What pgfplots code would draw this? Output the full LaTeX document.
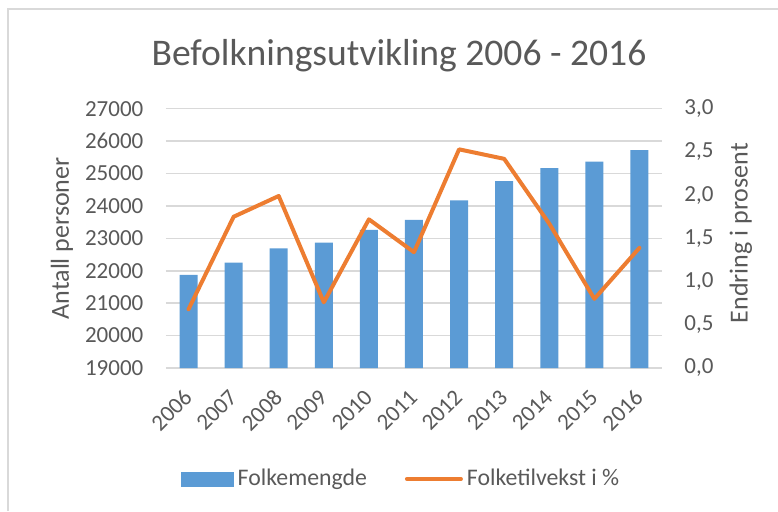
\documentclass[border=0pt]{standalone}
\usepackage{pgfplots}
\pgfplotsset{compat=1.18}
\usepackage{fontspec}
\setmainfont{Carlito}
\definecolor{barblue}{HTML}{5B9BD5}
\definecolor{lineorange}{HTML}{ED7D31}
\definecolor{txt}{HTML}{595959}
\definecolor{gridc}{HTML}{D9D9D9}
\begin{document}
\begin{tikzpicture}
\useasboundingbox (0,0) rectangle (389pt,255.5pt);
\draw[gridc, line width=0.75pt] (4pt,0pt) -- (4pt,251pt) -- (389pt,251pt);
\node[font=\fontsize{18.8}{23}\selectfont, text=txt, anchor=base] at (199.5pt,223pt) {Befolkningsutvikling 2006 - 2016};
\begin{axis}[
  at={(83pt,71.5pt)}, anchor=south west,
  scale only axis, width=248pt, height=129.65pt,
  xmin=-0.5, xmax=10.5, ymin=19000, ymax=27000,
  ytick={19000,20000,...,27000},
  scaled y ticks=false,
  xtick={0,...,10},
  xticklabels={2006,2007,2008,2009,2010,2011,2012,2013,2014,2015,2016},
  axis line style={draw=none},
  major tick length=0pt,
  ymajorgrids, grid style={gridc, line width=0.75pt},
  /pgf/number format/assume math mode=true,
  /pgf/number format/1000 sep={},
  yticklabel={\pgfmathprintnumber[fixed, precision=0, 1000 sep={}]{\tick}},
  tick label style={font=\fontsize{11.5}{14}\selectfont, text=txt},
  yticklabel style={xshift=-7.8pt},
  xticklabel style={xshift=2.2pt, yshift=-10.4pt, rotate=45, anchor=east},
  every axis y label/.style={at={(axis description cs:-0.21,0.5)}, rotate=90, anchor=center},
  ylabel={Antall personer},
  label style={font=\fontsize{13}{16}\selectfont, text=txt},
  clip=true,
]
\addplot[ybar, bar width=9pt, fill=barblue, draw=none] coordinates {
(0,21870) (1,22250) (2,22690) (3,22870) (4,23260) (5,23570) (6,24170) (7,24770) (8,25170) (9,25365) (10,25725)};
\end{axis}
\begin{axis}[
  at={(83pt,71.5pt)}, anchor=south west,
  scale only axis, width=248pt, height=129.65pt,
  xmin=-0.5, xmax=10.5, ymin=0, ymax=3,
  axis y line*=right, hide x axis,
  axis line style={draw=none},
  major tick length=0pt,
  ytick={0,0.5,...,3},
  /pgf/number format/assume math mode=true,
  yticklabel={\pgfmathprintnumber[fixed, fixed zerofill, precision=1, use comma]{\tick}},
  tick label style={font=\fontsize{11.5}{14}\selectfont, text=txt},
  yticklabel style={xshift=7.7pt},
  every axis y label/.style={at={(axis description cs:1.159,0.52)}, rotate=90, anchor=center},
  ylabel={Endring i prosent},
  label style={font=\fontsize{13}{16}\selectfont, text=txt},
  legend columns=2,
  legend style={at={(axis description cs:0.476,-0.428)}, anchor=center, draw=none, fill=none,
    font=\fontsize{11.9}{14}\selectfont, text=txt,
    /tikz/every even column/.append style={column sep=17pt}},
]
\addlegendimage{legend image code/.code={\fill[barblue] (0pt,-3.5pt) rectangle (26pt,3.5pt);}}
\addlegendentry{Folkemengde}
\addplot[lineorange, line width=2pt, line join=round, line cap=round, no markers,
  legend image code/.code={\draw[lineorange, line width=2pt, line cap=round] (0pt,0pt) -- (27pt,0pt);}] coordinates {
(0,0.68) (1,1.75) (2,1.99) (3,0.76) (4,1.72) (5,1.34) (6,2.53) (7,2.42) (8,1.67) (9,0.80) (10,1.39)};
\addlegendentry{Folketilvekst i \%}
\end{axis}
\end{tikzpicture}
\end{document}
